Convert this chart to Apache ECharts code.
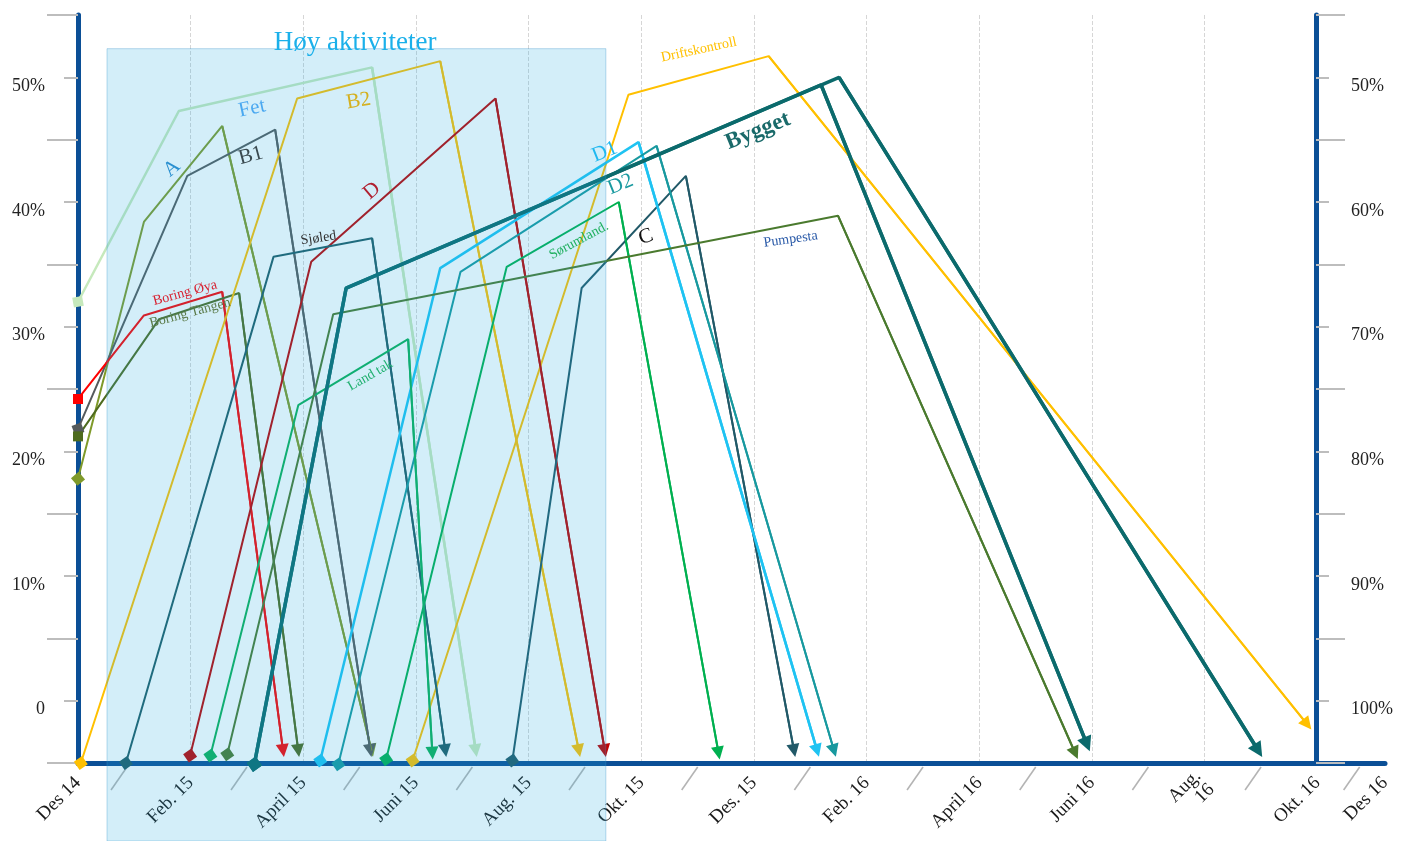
<!DOCTYPE html>
<html>
<head>
<meta charset="utf-8">
<script src="https://cdn.jsdelivr.net/npm/echarts@6/dist/echarts.min.js"></script>
<style>html,body{margin:0;padding:0;background:#fff;}#chart{width:1408px;height:841px;}</style>
</head>
<body>
<div id="chart"></div>
<script>
// ---- X axis (months after Des 14) ----
const xTickMonths = [0, 2, 4, 6, 8, 10, 12, 14, 16, 18, 20, 22, 23.2];
const xTickLabels = ['Des 14', 'Feb. 15', 'April 15', 'Juni 15', 'Aug. 15', 'Okt. 15', 'Des. 15', 'Feb. 16', 'April 16', 'Juni 16', 'Aug.\n16', 'Okt. 16', 'Des 16'];
const slashMonths = [0.87, 3, 5, 7, 9, 11, 13, 15, 17, 19, 21, 22.75];

// ---- Routes: [month, percent] ----
const fet            = [[0, 32.0], [1.79, 47.3], [5.22, 50.8], [7.06, -4.0]];
const a              = [[0, 17.8], [1.17, 38.4], [2.56, 46.1], [5.21, -4.0]];
const b1             = [[0, 21.8], [1.94, 42.1], [3.50, 45.8], [5.19, -4.0]];
const boringOya      = [[0, 24.2], [1.17, 30.9], [2.56, 32.8], [3.64, -4.0]];
const boringTangen   = [[0, 21.2], [1.44, 30.6], [2.86, 32.7], [3.91, -4.0]];
const b2             = [[0.05, -5.0], [3.89, 48.3], [6.43, 51.3], [8.89, -4.0]];
const driftskontroll = [[5.94, -4.8], [9.77, 48.6], [12.26, 51.7], [21.82, -1.9]];
const d              = [[1.99, -4.4], [4.14, 35.2], [7.41, 48.3], [9.35, -4.0]];
const sjoled         = [[0.85, -5.0], [3.47, 35.6], [5.22, 37.1], [6.52, -4.0]];
const c              = [[7.71, -4.8], [8.94, 33.1], [10.79, 42.1], [12.71, -4.0]];
const d1             = [[4.30, -4.8], [6.43, 34.7], [9.95, 44.8], [13.12, -4.0]];
const d2             = [[4.62, -5.1], [6.79, 34.4], [10.27, 44.5], [13.42, -4.0]];
const sorumland      = [[5.47, -4.7], [7.61, 34.8], [9.60, 40.0], [11.37, -4.2]];
const landTak        = [[2.35, -4.4], [3.91, 23.7], [5.86, 29.0], [6.29, -4.2]];
const pumpesta       = [[2.65, -4.3], [4.53, 31.0], [13.49, 38.9], [17.70, -4.2]];
const bygget1        = [[3.13, -5.1], [4.76, 33.1], [13.19, 49.4], [17.91, -3.5]];
const bygget2        = [[3.13, -5.1], [4.76, 33.1], [13.51, 50.0], [20.95, -4.0]];

const routeNames = ['Fet', 'A', 'B1', 'Boring Øya', 'Boring Tangen', 'B2', 'Driftskontroll', 'D', 'Sjøled', 'C', 'D1', 'D2', 'Sørumland', 'Land tak', 'Pumpesta', 'Bygget 1', 'Bygget 2'];
const routeData = [fet, a, b1, boringOya, boringTangen, b2, driftskontroll, d, sjoled, c, d1, d2, sorumland, landTak, pumpesta, bygget1, bygget2];

// ---- Text labels on the chart ----
const labelTexts = ['Fet', 'A', 'B1', 'B2', 'D', 'Sjøled', 'Boring Øya', 'Boring Tangen', 'Land tak', 'D1', 'D2', 'Sørumland.', 'C', 'Driftskontroll', 'Bygget', 'Pumpesta', 'Høy aktiviteter'];
const labelPos = [[3.09, 47.5], [1.67, 42.7], [3.07, 43.7], [4.98, 48.1], [5.22, 40.9], [4.27, 37.1], [1.90, 32.7], [1.99, 31.1], [5.19, 26.1], [9.35, 44.0], [9.63, 41.4], [8.89, 36.9], [10.08, 37.2], [11.02, 52.2], [12.07, 45.7], [12.65, 37.0], [4.92, 52.8]];

// ---- Highlighted period (Høy aktiviteter) ----
const highActivity = [[0.515, 52.3], [9.37, -5]];

// ---------------- styles ----------------
const FONT = '"Liberation Serif", "DejaVu Serif", serif';
const AXIS_BLUE = '#0b4f96';
const routeStyles = [
  {color: '#c6e9bc', width: 2.5, sym: 'rect', rot: 10, size: 10},
  {color: '#7f9a2a', width: 2, sym: 'rect', rot: 40, size: 10},
  {color: '#555a5c', width: 2, sym: 'rect', rot: 20, size: 10},
  {color: '#ff0000', width: 2, sym: 'rect', rot: 0, size: 10},
  {color: '#4e6b1e', width: 2, sym: 'rect', rot: 0, size: 10},
  {color: '#ffc000', width: 2, sym: 'rect', rot: 35, size: 10},
  {color: '#ffc000', width: 2, sym: 'rect', rot: 35, size: 10},
  {color: '#c00000', width: 2, sym: 'rect', rot: 35, size: 10},
  {color: '#1f5c66', width: 2, sym: 'rect', rot: 35, size: 10},
  {color: '#215968', width: 2, sym: 'rect', rot: 35, size: 10},
  {color: '#1fc3f2', width: 2.5, sym: 'rect', rot: 35, size: 10},
  {color: '#18999f', width: 2, sym: 'rect', rot: 35, size: 10},
  {color: '#00b050', width: 2, sym: 'rect', rot: 35, size: 10},
  {color: '#0cb058', width: 2, sym: 'rect', rot: 35, size: 10},
  {color: '#4a7a2e', width: 2, sym: 'rect', rot: 35, size: 10},
  {color: '#0b6a6c', width: 3.5, sym: 'rect', rot: 35, size: 11},
  {color: '#0b6a6c', width: 3.5, sym: 'rect', rot: 35, size: 11}
];
const labelStyles = [
  {color: '#4aa8f0', size: 21, rot: 12},
  {color: '#2a90d0', size: 21, rot: 40},
  {color: '#3a4a50', size: 21, rot: 15},
  {color: '#d4b020', size: 21, rot: 10},
  {color: '#b02030', size: 21, rot: 40},
  {color: '#333333', size: 14, rot: 8},
  {color: '#d82030', size: 14, rot: 15},
  {color: '#5a7a48', size: 14, rot: 15},
  {color: '#20b070', size: 14, rot: 30},
  {color: '#20b8f0', size: 21, rot: 22},
  {color: '#1a9aa0', size: 21, rot: 22},
  {color: '#20b060', size: 14, rot: 28},
  {color: '#111111', size: 21, rot: 20},
  {color: '#ffc000', size: 14, rot: 12},
  {color: '#1a6a6a', size: 23, rot: 22, weight: 'bold'},
  {color: '#2a5aa8', size: 14, rot: 8},
  {color: '#1bb0ea', size: 27, rot: 0}
];

const series = [];
routeData.forEach((pts, i) => {
  const st = routeStyles[i];
  series.push({
    name: routeNames[i], type: 'line', xAxisIndex: 0, yAxisIndex: 0,
    clip: false, silent: true, animation: false, z: 2,
    lineStyle: {color: st.color, width: st.width},
    itemStyle: {color: st.color},
    showSymbol: true,
    data: pts.map((p, k) => k === 0
      ? {value: p, symbol: st.sym, symbolSize: st.size, symbolRotate: st.rot}
      : {value: p, symbol: 'none'})
  });
  const n = pts.length;
  series.push({
    name: routeNames[i] + ' pil', type: 'lines', coordinateSystem: 'cartesian2d',
    xAxisIndex: 0, yAxisIndex: 0, clip: false, silent: true, animation: false, z: 2,
    symbol: ['none', 'triangle'], symbolSize: [1, st.width > 3 ? 15 : 13],
    lineStyle: {color: st.color, width: st.width, opacity: 1, curveness: 0},
    data: [{coords: [pts[n - 2], pts[n - 1]]}]
  });
});

// translucent highlight overlay
series.push({
  type: 'custom', coordinateSystem: 'cartesian2d', xAxisIndex: 0, yAxisIndex: 0,
  clip: false, silent: true, animation: false, z: 5,
  data: [[highActivity[0][0], highActivity[0][1], highActivity[1][0], highActivity[1][1]]],
  renderItem: (params, api) => {
    const p1 = api.coord([api.value(0), api.value(1)]);
    const p2 = api.coord([api.value(2), api.value(3)]);
    return {
      type: 'rect',
      shape: {x: p1[0], y: p1[1], width: p2[0] - p1[0], height: api.getHeight() - p1[1]},
      style: {fill: 'rgba(35,170,225,0.2)', stroke: 'rgba(60,150,200,0.35)', lineWidth: 1}
    };
  }
});

// diagonal slashes under the time axis
series.push({
  type: 'custom', coordinateSystem: 'cartesian2d', xAxisIndex: 0, yAxisIndex: 0,
  clip: false, silent: true, animation: false, z: 1,
  data: slashMonths.map(m => [m, -5]),
  renderItem: (params, api) => {
    const p = api.coord([api.value(0), api.value(1)]);
    return {type: 'line', shape: {x1: p[0], y1: p[1] + 4, x2: p[0] - 16, y2: p[1] + 27},
      style: {stroke: '#b4b4b4', lineWidth: 1.6}};
  }
});

// text labels
series.push({
  type: 'custom', coordinateSystem: 'cartesian2d', xAxisIndex: 0, yAxisIndex: 0,
  clip: false, silent: true, animation: false, z: 10,
  data: labelPos.map((p, i) => [p[0], p[1], i]),
  renderItem: (params, api) => {
    const i = api.value(2);
    const p = api.coord([api.value(0), api.value(1)]);
    const s = labelStyles[i];
    return {
      type: 'text', x: p[0], y: p[1], rotation: s.rot * Math.PI / 180,
      style: {text: labelTexts[i], fill: s.color,
        font: (s.weight || 'normal') + ' ' + s.size + 'px ' + FONT,
        align: 'center', verticalAlign: 'middle', textAlign: 'center', textVerticalAlign: 'middle'}
    };
  }
});

const tickStyle = {color: '#bdbdbd', width: 2};
const option = {
  backgroundColor: '#ffffff',
  animation: false,
  grid: [
    {left: 78, right: 23, top: 15, bottom: 78},
    {left: 78, right: 92, top: 15, bottom: 78}
  ],
  xAxis: [
    {
      type: 'value', gridIndex: 0, min: 0, max: 23.2, interval: 2, z: 1,
      axisLine: {show: true, onZero: false, lineStyle: {color: AXIS_BLUE, width: 5}},
      axisTick: {show: false},
      splitLine: {show: true, showMinLine: false, showMaxLine: false, lineStyle: {type: 'dashed', color: '#d6d6d6', width: 1}},
      axisLabel: {
        rotate: 45, margin: 17, fontFamily: FONT, fontSize: 19, color: '#1a1a1a',
        showMinLabel: true, showMaxLabel: true,
        formatter: v => { const k = xTickMonths.findIndex(m => Math.abs(m - v) < 0.01); return k >= 0 ? xTickLabels[k] : ''; }
      }
    },
    {type: 'value', gridIndex: 1, min: 0, max: 22, show: false}
  ],
  yAxis: [
    {
      type: 'value', gridIndex: 0, position: 'left', min: -5, max: 55, interval: 10, z: 1,
      axisLine: {show: true, onZero: false, lineStyle: {color: AXIS_BLUE, width: 5}},
      axisTick: {show: true, length: 31, lineStyle: tickStyle},
      minorTick: {show: true, splitNumber: 2, length: 14, lineStyle: tickStyle},
      axisLabel: {show: false}, splitLine: {show: false}
    },
    {
      type: 'value', gridIndex: 0, position: 'left', min: -5, max: 55, interval: 5, z: 1,
      axisLine: {show: false}, axisTick: {show: false}, splitLine: {show: false},
      axisLabel: {margin: 33, fontFamily: FONT, fontSize: 18, color: '#222', verticalAlign: 'top',
        formatter: v => (Math.round(v) % 10 === 0) ? (Math.round(v) === 0 ? '0' : Math.round(v) + '%') : ''}
    },
    {
      type: 'value', gridIndex: 1, position: 'right', inverse: true, min: 45, max: 105, interval: 10, z: 1,
      axisLine: {show: true, onZero: false, lineStyle: {color: AXIS_BLUE, width: 5}},
      axisTick: {show: true, length: 29, lineStyle: tickStyle},
      minorTick: {show: true, splitNumber: 2, length: 13, lineStyle: tickStyle},
      axisLabel: {show: false}, splitLine: {show: false}
    },
    {
      type: 'value', gridIndex: 1, position: 'right', inverse: true, min: 45, max: 105, interval: 5, z: 1,
      axisLine: {show: false}, axisTick: {show: false}, splitLine: {show: false},
      axisLabel: {margin: 35, fontFamily: FONT, fontSize: 18, color: '#222', verticalAlign: 'top',
        formatter: v => (Math.round(v) % 10 === 0) ? Math.round(v) + '%' : ''}
    }
  ],
  series: series
};

const chart = echarts.init(document.getElementById('chart'), null, {renderer: 'canvas'});
chart.setOption(option);
</script>
</body>
</html>
